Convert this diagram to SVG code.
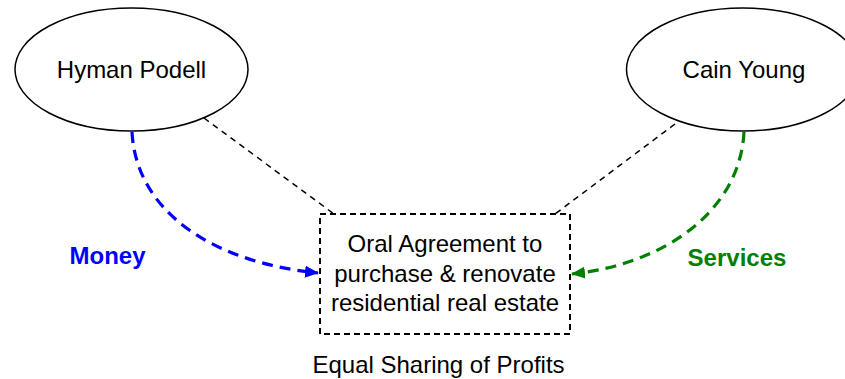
<svg xmlns="http://www.w3.org/2000/svg" width="845" height="379" viewBox="0 0 845 379">
<style>
.lbl{font-family:"Liberation Sans",Arial,sans-serif;font-size:24px;fill:#000;text-anchor:middle}
.bold{font-weight:bold}
.node{fill:#fff;stroke:#000;stroke-width:1.5}
.thin{fill:none;stroke:#000;stroke-width:1.5;stroke-dasharray:6,5}
.flow{fill:none;stroke-width:3.2;stroke-dasharray:11,7}
</style>
<defs>
<marker id="ab" viewBox="0 0 14 12" refX="13" refY="6" markerWidth="14" markerHeight="12" markerUnits="userSpaceOnUse" orient="auto"><path d="M0,0 L14,6 L0,12 Z" fill="#0000ff"/></marker>
<marker id="ag" viewBox="0 0 14 12" refX="13" refY="6" markerWidth="14" markerHeight="12" markerUnits="userSpaceOnUse" orient="auto"><path d="M0,0 L14,6 L0,12 Z" fill="#008000"/></marker>
</defs>
<rect width="845" height="379" fill="#fff"/>
<g id="connectors">
<path class="thin" d="M204,118 L334,214"/>
<path class="thin" d="M675,124 L555,214"/>
<path class="flow" stroke="#0000ff" d="M132,132 C136,210 210,262 318,273" marker-end="url(#ab)"/>
<path class="flow" stroke="#008000" d="M744,132 C740,210 666,264 572,274" marker-end="url(#ag)"/>
</g>
<g id="hyman">
<ellipse class="node" cx="131.5" cy="69.5" rx="116.5" ry="61.5"/>
<text class="lbl" x="131.5" y="78">Hyman Podell</text>
</g>
<g id="cain">
<ellipse class="node" cx="743" cy="69.5" rx="116.5" ry="61.5"/>
<text class="lbl" x="744" y="78">Cain Young</text>
</g>
<g id="agreement">
<rect x="320" y="214" width="250" height="120" fill="#fff" stroke="#000" stroke-width="2" stroke-dasharray="6,4"/>
<text class="lbl" x="445" y="252">Oral Agreement to</text>
<text class="lbl" x="445" y="282">purchase &amp; renovate</text>
<text class="lbl" x="445" y="311">residential real estate</text>
</g>
<g id="money">
<text class="lbl bold" x="107.5" y="264" style="fill:#0000ff">Money</text>
</g>
<g id="services">
<text class="lbl bold" x="737" y="266" style="fill:#008000">Services</text>
</g>
<g id="profits">
<text class="lbl" x="438.5" y="373">Equal Sharing of Profits</text>
</g>
</svg>
